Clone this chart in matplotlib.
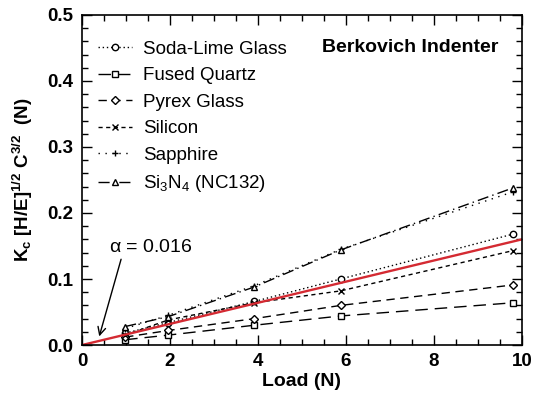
import matplotlib
matplotlib.use("Agg")
import matplotlib.pyplot as plt
from matplotlib.ticker import MultipleLocator

plt.rcParams['font.family'] = ['Liberation Sans', 'DejaVu Sans']
plt.rcParams['mathtext.fontset'] = 'custom'
plt.rcParams['mathtext.rm'] = 'Liberation Sans'
plt.rcParams['mathtext.bf'] = 'Liberation Sans:bold'
plt.rcParams['mathtext.default'] = 'regular'

# Indentation loads (N)
loads = [0.98, 1.96, 3.92, 5.88, 9.8]

soda_lime = [0.018, 0.034, 0.066, 0.100, 0.168]
fused_quartz = [0.008, 0.015, 0.030, 0.044, 0.064]
pyrex = [0.012, 0.022, 0.040, 0.060, 0.091]
silicon = [0.015, 0.038, 0.064, 0.082, 0.143]
sapphire = [0.025, 0.045, 0.090, 0.145, 0.232]
si3n4 = [0.028, 0.043, 0.088, 0.144, 0.238]

series_names = ["Soda-Lime Glass", "Fused Quartz", "Pyrex Glass", "Silicon",
                "Sapphire", "Si$_3$N$_4$ (NC132)"]

alpha_fit = 0.016
fit_x = [0, 10]

fig, ax = plt.subplots(figsize=(5.33, 4.04), dpi=100)
fig.subplots_adjust(left=0.154, right=0.979, top=0.963, bottom=0.146)

styles = [
    dict(ls=(0, (1, 2)), marker='o'),
    dict(ls=(0, (9, 5)), marker='s'),
    dict(ls=(0, (6, 4)), marker='D', ms=3.6),
    dict(ls=(0, (3, 2.5)), marker='x'),
    dict(ls=(0, (1, 4)), marker='+'),
    dict(ls=(0, (8, 3, 1, 3)), marker='^'),
]
data = [soda_lime, fused_quartz, pyrex, silicon, sapphire, si3n4]

for name, ys, st in zip(series_names, data, styles):
    ms = st.pop('ms', 4.6)
    ax.plot(loads, ys, color='black', lw=1.0, markersize=ms,
            markerfacecolor='white', markeredgecolor='black',
            markeredgewidth=1.0, label=name, **st)

ax.plot(fit_x, [alpha_fit * x for x in fit_x], color='#d42a32', lw=1.7)

ax.set_xlim(0, 10)
ax.set_ylim(0, 0.5)
ax.xaxis.set_major_locator(MultipleLocator(2))
ax.xaxis.set_minor_locator(MultipleLocator(0.5))
ax.yaxis.set_major_locator(MultipleLocator(0.1))
ax.yaxis.set_minor_locator(MultipleLocator(0.02))
ax.yaxis.set_major_formatter(plt.FuncFormatter(lambda v, p: f"{v:.1f}"))
ax.tick_params(which='both', direction='in', top=True, right=True, width=1.0)
ax.tick_params(which='major', length=7, labelsize=13.5, pad=6)
ax.tick_params(which='minor', length=4)
for lab in ax.get_xticklabels() + ax.get_yticklabels():
    lab.set_fontweight('bold')
for sp in ax.spines.values():
    sp.set_linewidth(1.2)

ax.set_xlabel("Load (N)", fontsize=14, fontweight='bold', labelpad=2)
ax.set_ylabel(r"K$_\mathbf{c}$ [H/E]$^\mathbf{1/2}$ C$^\mathbf{3/2}$  (N)",
              fontsize=13.5, fontweight='bold', labelpad=9)

ax.text(5.45, 0.45, "Berkovich Indenter", fontsize=14, fontweight='bold',
        va='center', ha='left')

ax.annotate(r"$\alpha$ = 0.016", xy=(0.39, 0.013), xytext=(0.62, 0.147),
            fontsize=14, va='center', ha='left',
            arrowprops=dict(arrowstyle='->', color='black', lw=1.0,
                            shrinkA=0, shrinkB=0, relpos=(0.15, 0.0)))

leg = ax.legend(loc='upper left', bbox_to_anchor=(0.02, 0.945), frameon=False,
                fontsize=13.5, handlelength=1.8, handletextpad=0.6,
                labelspacing=0.5, borderaxespad=0, markerfirst=True)

fig.savefig("out.png", dpi=100)
